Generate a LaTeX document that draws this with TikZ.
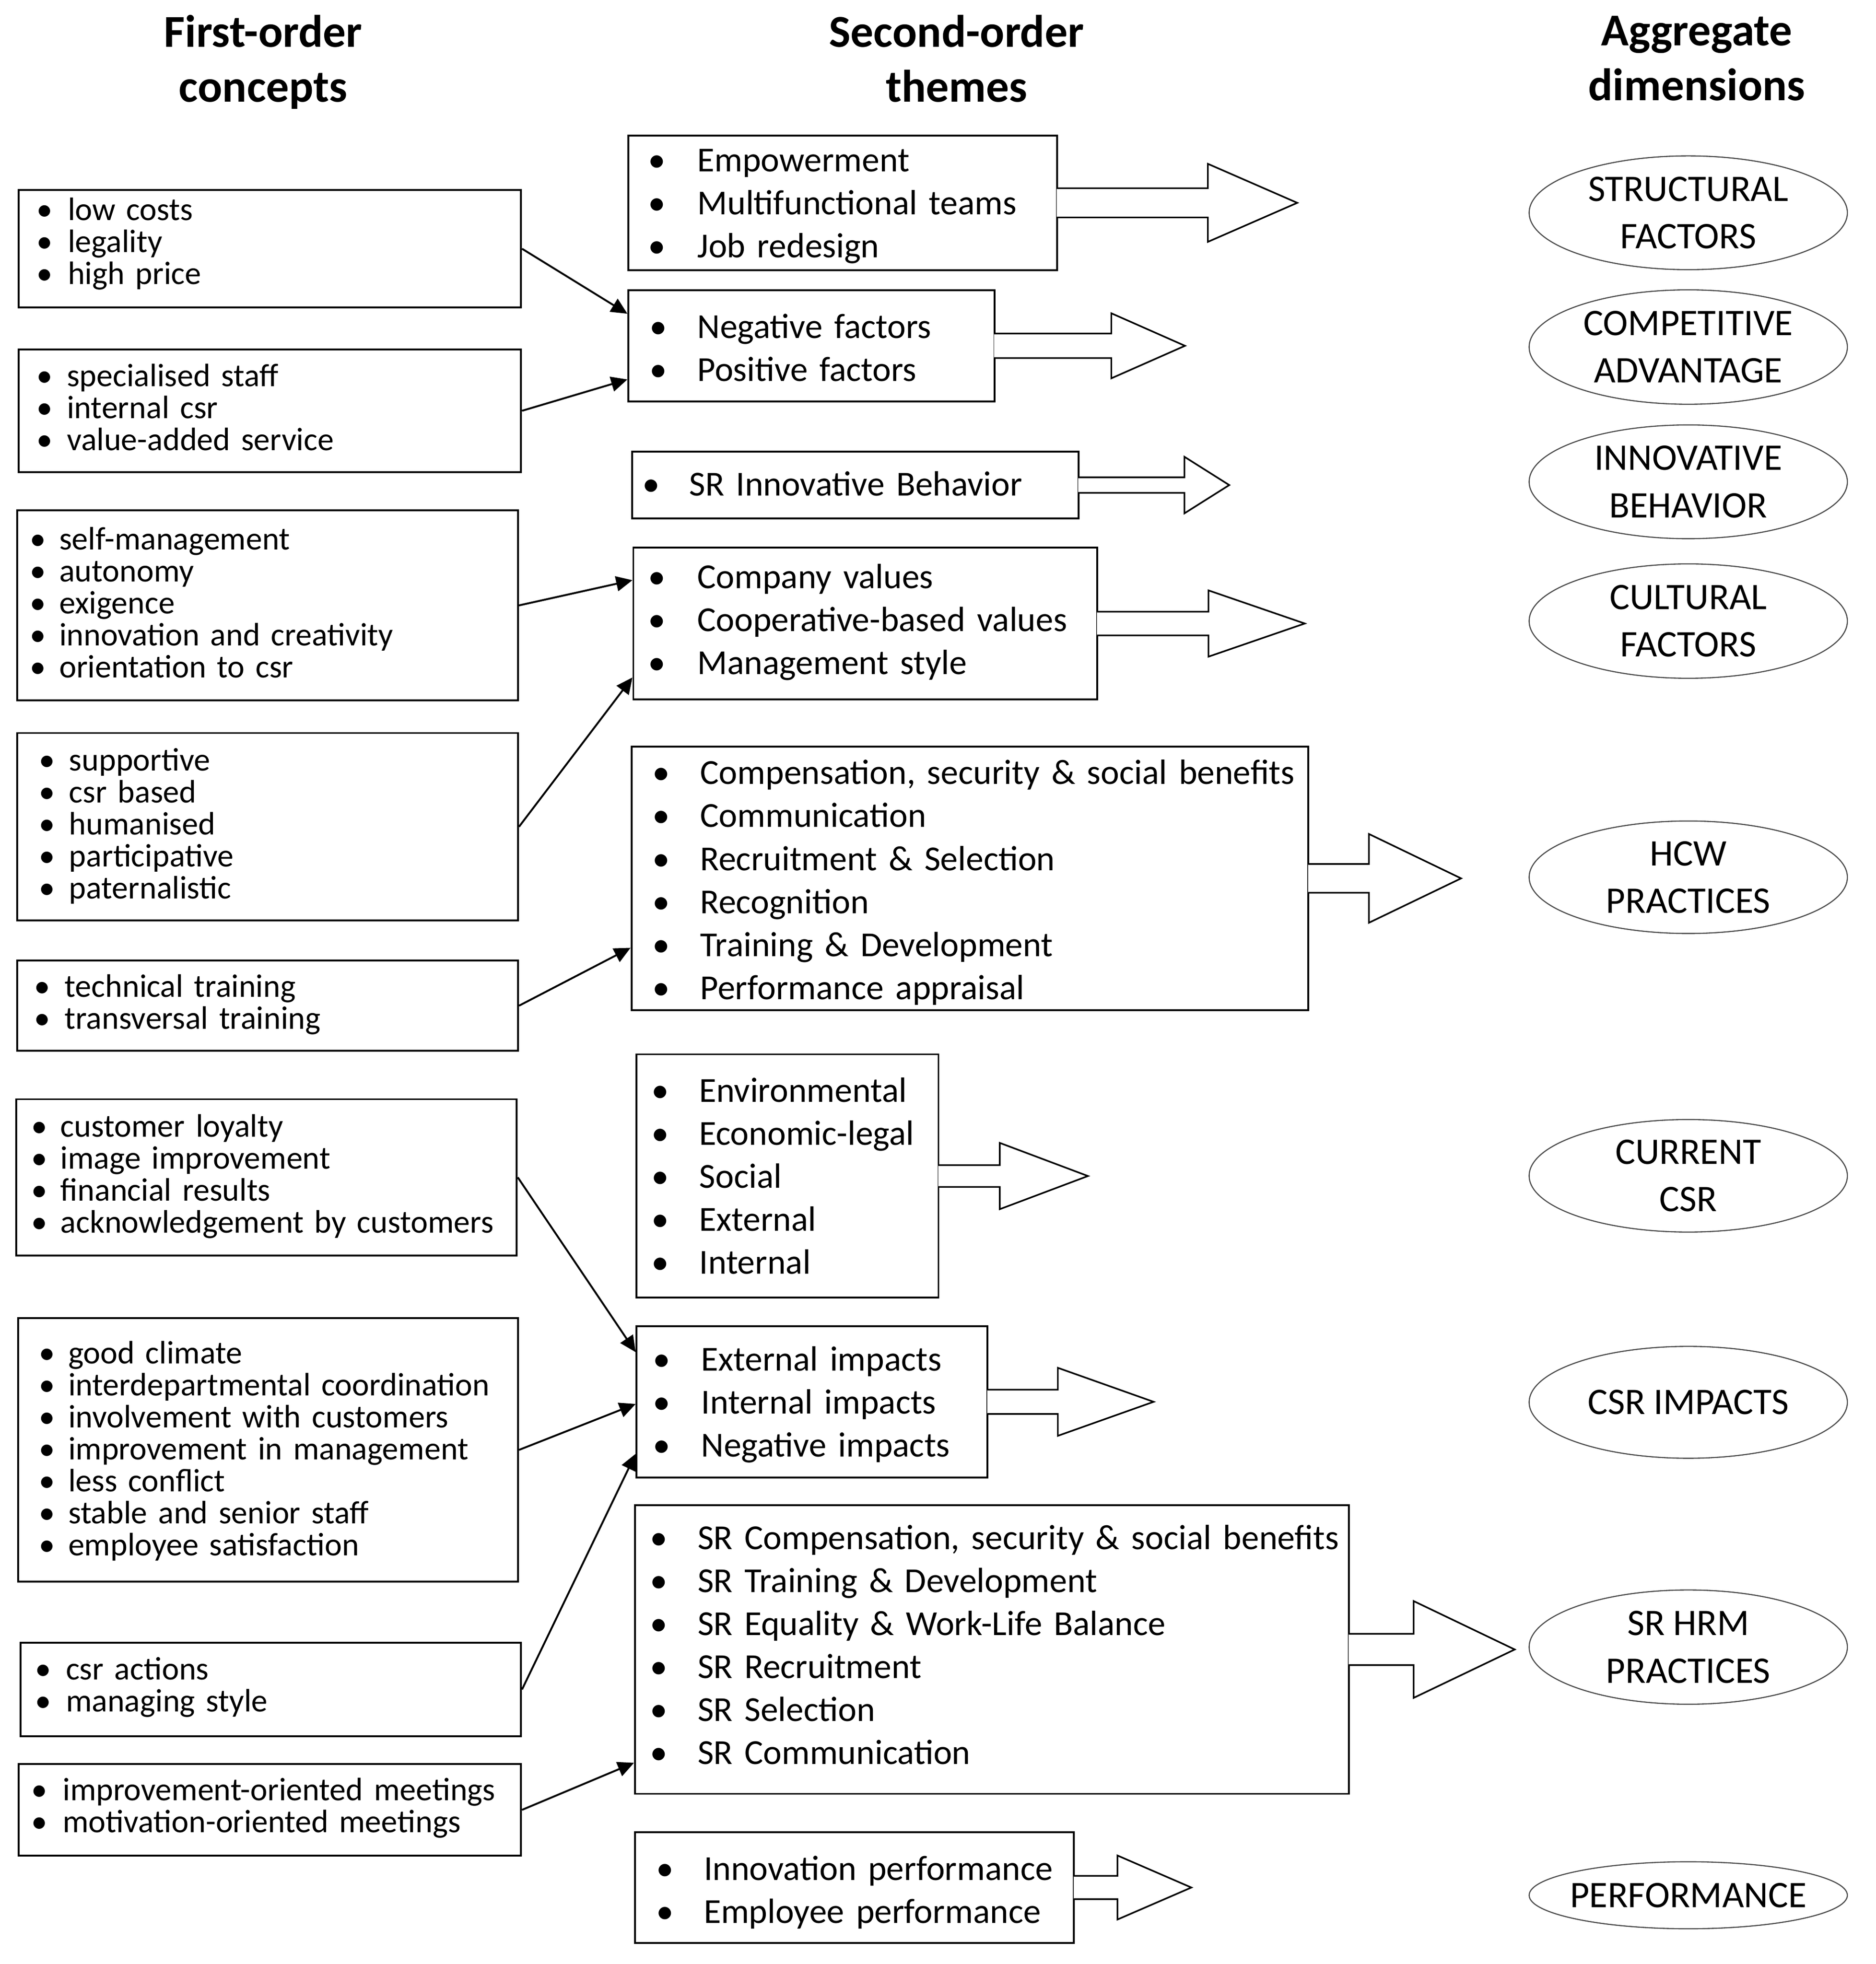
\documentclass[tikz,border=0pt]{standalone}
\usepackage{fontspec}
\setmainfont{Carlito}
\usetikzlibrary{arrows.meta,calc,shapes.geometric}
\newcommand\bi[2]{\mbox{\makebox[#1pt][l]{•}#2}}
\newcommand\blockarrow[5]{%
  \draw[barrow] ([xshift=-1pt]#1.east) ++(0,-#2) -- ++({#3+1},0) -- ++(0,{-(#4-#2)})
    -- ++(#5,#4) -- ++(-#5,#4) -- ++(0,{-(#4-#2)}) -- ++({-#3-1},0);}
\tikzset{
  fo/.style={draw, line width=1.5pt, anchor=north west, inner ysep=0pt, align=left,
    font=\fontsize{26}{25.6}\selectfont},
  so/.style={draw, line width=1.5pt, anchor=north west, inner ysep=0pt, align=left,
    font=\fontsize{28.1}{34.4}\selectfont},
  hdr/.style={anchor=north, inner sep=0pt, align=center, font=\fontsize{36.5}{44}\selectfont\bfseries},
  dim/.style={ellipse, draw=black!70, line width=0.9pt, minimum width=254.5pt, minimum height=91pt,
    inner sep=0pt, align=center, font=\fontsize{30}{38}\selectfont},
  conn/.style={line width=1.5pt, -{Triangle[length=13pt,width=12pt]}},
  barrow/.style={draw, fill=white, line width=1.3pt, line join=miter}
}
\begin{document}
\begin{tikzpicture}[x=1pt,y=-1pt]
\useasboundingbox (0,0) rectangle (1500,1571);
% headers
\node[hdr] (H1) at (210.5,7.5) {\rule{0pt}{30pt}First-order\\concepts};
\node[hdr] (H2) at (765,7.5) {\rule{0pt}{30pt}Second-order\\themes};
\node[hdr] (H3) at (1357,6.3) {\rule{0pt}{30pt}Aggregate\\dimensions};
% first-order concepts
\node[fo, inner xsep=14.3pt, minimum width=401.7pt, text width=373.1pt] (L1) at (14.3,151.2)
 {\rule{0pt}{24.3pt}\bi{24.9}{low costs}\\\bi{24.9}{legality}\\\bi{24.9}{high price}\rule[-18.5pt]{0pt}{18.5pt}};
\node[fo, inner xsep=14.2pt, minimum width=401.7pt, text width=373.3pt] (L2) at (14.3,278.7)
 {\rule{0pt}{29.5pt}\bi{24.3}{specialised staff}\\\bi{24.3}{internal csr}\\\bi{24.3}{value-added service}\rule[-17.6pt]{0pt}{17.6pt}};
\node[fo, inner xsep=10.3pt, minimum width=400.7pt, text width=380.1pt] (L3) at (12.9,407.4)
 {\rule{0pt}{31.6pt}\bi{23.5}{self-management}\\\bi{23.5}{autonomy}\\\bi{23.5}{exigence}\\\bi{23.5}{innovation and creativity}\\\bi{23.5}{orientation to csr}\rule[-18.2pt]{0pt}{18.2pt}};
\node[fo, inner xsep=17.4pt, minimum width=400.7pt, text width=365.9pt] (L4) at (12.9,585.6)
 {\rule{0pt}{30.1pt}\bi{24.3}{supportive}\\\bi{24.3}{csr based}\\\bi{24.3}{humanised}\\\bi{24.3}{participative}\\\bi{24.3}{paternalistic}\rule[-17.4pt]{0pt}{17.4pt}};
\node[fo, inner xsep=13.7pt, minimum width=400.7pt, text width=373.3pt] (L5) at (12.9,767.6)
 {\rule{0pt}{29.3pt}\bi{24.5}{technical training}\\\bi{24.5}{transversal training}\rule[-17.3pt]{0pt}{17.3pt}};
\node[fo, inner xsep=11.9pt, minimum width=400.3pt, text width=376.5pt] (L6) at (12.3,878.5)
 {\rule{0pt}{30.3pt}\bi{23.5}{customer loyalty}\\\bi{23.5}{image improvement}\\\bi{23.5}{financial results}\\\bi{23.5}{acknowledgement by customers}\rule[-17.9pt]{0pt}{17.9pt}};
\node[fo, inner xsep=16.7pt, minimum width=400pt, text width=366.6pt] (L7) at (13.6,1053.5)
 {\rule{0pt}{36.5pt}\bi{23.6}{good climate}\\\bi{23.6}{interdepartmental coordination}\\\bi{23.6}{involvement with customers}\\\bi{23.6}{improvement in management}\\\bi{23.6}{less conflict}\\\bi{23.6}{stable and senior staff}\\\bi{23.6}{employee satisfaction}\rule[-20.9pt]{0pt}{20.9pt}};
\node[fo, inner xsep=11.8pt, minimum width=400.3pt, text width=376.7pt] (L8) at (15.7,1313.3)
 {\rule{0pt}{29.7pt}\bi{24.5}{csr actions}\\\bi{24.5}{managing style}\rule[-19.4pt]{0pt}{19.4pt}};
\node[fo, inner xsep=9.9pt, minimum width=401.7pt, text width=381.9pt] (L9) at (14.3,1410.3)
 {\rule{0pt}{29.3pt}\bi{25.3}{improvement-oriented meetings}\\\bi{25.3}{motivation-oriented meetings}\rule[-18.4pt]{0pt}{18.4pt}};
% second-order themes
\node[so, inner xsep=15.9pt, minimum width=342.8pt, text width=311pt] (M1) at (501.8,107.7)
 {\rule{0pt}{28.7pt}\bi{39.3}{Empowerment}\\\bi{39.3}{Multifunctional teams}\\\bi{39.3}{Job redesign}\rule[-10.1pt]{0pt}{10.1pt}};
\node[so, inner xsep=17.1pt, minimum width=292.7pt, text width=258.5pt] (M2) at (501.8,231.3)
 {\rule{0pt}{38.6pt}\bi{38.1}{Negative factors}\\\bi{38.1}{Positive factors}\rule[-16.1pt]{0pt}{16.1pt}};
\node[so, inner xsep=8.2pt, minimum width=357.1pt, text width=340.7pt] (M3) at (504.7,360.5)
 {\rule{0pt}{35.3pt}\bi{37.5}{SR Innovative Behavior}\rule[-18.2pt]{0pt}{18.2pt}};
\node[so, inner xsep=11.9pt, minimum width=371pt, text width=347.2pt] (M4) at (505.8,437.3)
 {\rule{0pt}{32.7pt}\bi{39.3}{Company values}\\\bi{39.3}{Cooperative-based values}\\\bi{39.3}{Management style}\rule[-19.9pt]{0pt}{19.9pt}};
\node[so, inner xsep=16.8pt, minimum width=541.4pt, text width=507.8pt] (M5) at (504.3,596.6)
 {\rule{0pt}{30pt}\bi{38.2}{Compensation, security \& social benefits}\\\bi{38.2}{Communication}\\\bi{38.2}{Recruitment \& Selection}\\\bi{38.2}{Recognition}\\\bi{38.2}{Training \& Development}\\\bi{38.2}{Performance appraisal}\rule[-8.5pt]{0pt}{8.5pt}};
\node[so, inner xsep=11.9pt, minimum width=241.4pt, text width=217.6pt] (M6) at (508.4,842.6)
 {\rule{0pt}{38pt}\bi{38.2}{Environmental}\\\bi{38.2}{Economic-legal}\\\bi{38.2}{Social}\\\bi{38.2}{External}\\\bi{38.2}{Internal}\rule[-19.1pt]{0pt}{19.1pt}};
\node[so, inner xsep=13.2pt, minimum width=280.6pt, text width=254.2pt] (M7) at (508.4,1060)
 {\rule{0pt}{35.8pt}\bi{38.5}{External impacts}\\\bi{38.5}{Internal impacts}\\\bi{38.5}{Negative impacts}\rule[-16.5pt]{0pt}{16.5pt}};
\node[so, inner xsep=12pt, minimum width=570.9pt, text width=546.9pt] (M8) at (507.1,1203.2)
 {\rule{0pt}{35.2pt}\bi{38.1}{SR Compensation, security \& social benefits}\\\bi{38.1}{SR Training \& Development}\\\bi{38.1}{SR Equality \& Work-Life Balance}\\\bi{38.1}{SR Recruitment}\\\bi{38.1}{SR Selection}\\\bi{38.1}{SR Communication}\rule[-23.7pt]{0pt}{23.7pt}};
\node[so, inner xsep=16.9pt, minimum width=351.1pt, text width=317.3pt] (M9) at (507.1,1464.7)
 {\rule{0pt}{38.5pt}\bi{38.2}{Innovation performance}\\\bi{38.2}{Employee performance}\rule[-15.8pt]{0pt}{15.8pt}};
% aggregate dimensions
\node[dim] (E1) at (1350.2,170.2) {STRUCTURAL\\FACTORS};
\node[dim, minimum height=91.5pt] (E2) at (1350.2,277.6) {COMPETITIVE\\ADVANTAGE};
\node[dim] (E3) at (1350.2,385.4) {INNOVATIVE\\BEHAVIOR};
\node[dim, minimum height=91.5pt] (E4) at (1350.2,496.8) {CULTURAL\\FACTORS};
\node[dim, minimum height=90pt] (E5) at (1350.2,701.7) {HCW\\PRACTICES};
\node[dim, minimum height=90pt] (E6) at (1350.2,940.5) {CURRENT\\CSR};
\node[dim, minimum height=89.5pt] (E7) at (1350.2,1121.7) {CSR IMPACTS};
\node[dim, minimum height=91.4pt] (E8) at (1350.2,1317.5) {SR HRM\\PRACTICES};
\node[dim, minimum height=53.6pt, inner xsep=-12pt] (E9) at (1350.2,1516) {PERFORMANCE};
% block arrows
\blockarrow{M1}{11.7}{119.9}{31.2}{71.5}
\blockarrow{M2}{9.8}{92.8}{26}{58.9}
\blockarrow{M3}{6.2}{84}{22.6}{35.8}
\blockarrow{M4}{9.5}{88.2}{26.5}{77}
\blockarrow{M5}{11.5}{47.6}{35.5}{73.7}
\blockarrow{M6}{8.7}{48.3}{26.5}{70.5}
\blockarrow{M7}{9.7}{55.5}{27.2}{76.6}
\blockarrow{M8}{12.5}{51.1}{38.7}{80.8}
\blockarrow{M9}{9.3}{34}{25.6}{59.1}
% connectors
\draw[conn] (L1.east) -- ($(M2.north west)!0.217!(M2.south west)$);
\draw[conn] (L2.east) -- ($(M2.north west)!0.797!(M2.south west)$);
\draw[conn] (L3.east) -- ($(M4.north west)!0.218!(M4.south west)$);
\draw[conn] (L4.east) -- ($(M4.north west)!0.851!(M4.south west)$);
\draw[conn] (L5.east) -- ($(M5.north west)!0.762!(M5.south west)$);
\draw[conn] (L6.east) -- ($(M7.north west)!0.176!(M7.south west)$);
\draw[conn] (L7.east) -- ($(M7.north west)!0.514!(M7.south west)$);
\draw[conn] (L8.east) -- ($(M7.north west)!0.839!(M7.south west)$);
\draw[conn] (L9.east) -- ($(M8.north west)!0.890!(M8.south west)$);
\end{tikzpicture}
\end{document}
